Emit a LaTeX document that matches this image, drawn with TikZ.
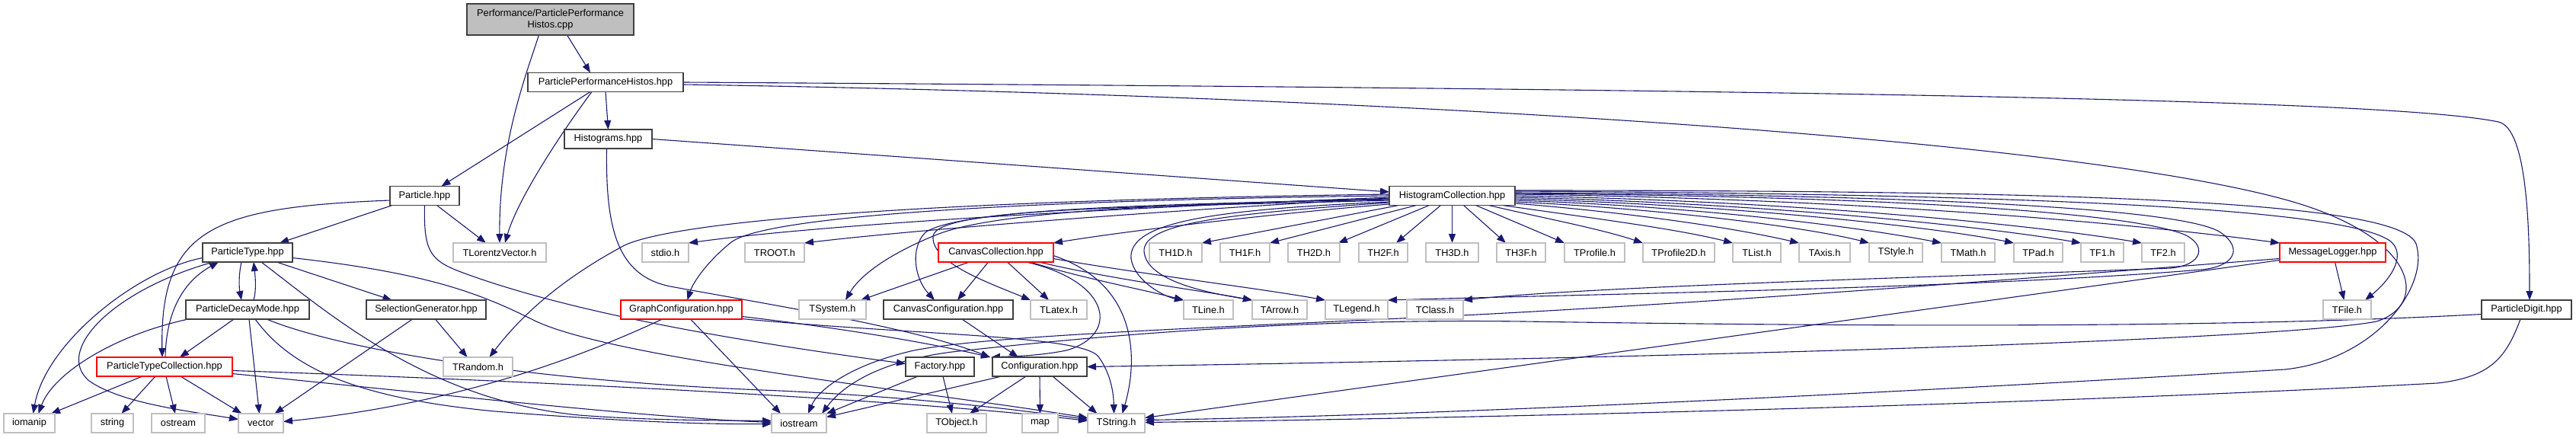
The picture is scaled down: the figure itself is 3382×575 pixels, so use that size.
\documentclass[tikz,border=0pt]{standalone}
\usepackage{fontspec}
\setmainfont{Liberation Sans}
\usetikzlibrary{arrows.meta}
\definecolor{edgec}{HTML}{191970}
\definecolor{extc}{HTML}{BFBFBF}
\definecolor{intc}{HTML}{404040}
\pgfdeclarelayer{paper}
\pgfdeclarelayer{bg}
\pgfsetlayers{paper,bg,main}
\tikzset{
 box/.style={rectangle, minimum height=25pt, inner sep=0pt, outer sep=0pt, line width=1.2pt, fill=white, font=\fontsize{12.8}{15}\selectfont, text=black},
 intbox/.style={box, draw=intc},
 extbox/.style={box, draw=extc},
 trunc/.style={box, draw=red},
 rootbox/.style={box, draw=intc, fill=extc, minimum height=41pt, align=center},
 e/.style={draw=edgec, line width=1.1pt, -{Triangle[length=12pt,width=9pt]}},
}
\begin{document}
\begin{tikzpicture}[x=1pt,y=-1pt]
\begin{pgfonlayer}{paper}
\fill[white] (0,0) rectangle (3382,575);
\end{pgfonlayer}
\useasboundingbox (0,0) rectangle (3382,575);
% rank 0-3
\node[rootbox, minimum width=219pt] (root) at (722.5,25.5) {Performance/ParticlePerformance\\Histos.cpp};
\node[intbox, minimum width=204pt] (pph) at (795,108) {ParticlePerformanceHistos.hpp};
\node[intbox, minimum width=115pt] (hist) at (798.5,182.5) {Histograms.hpp};
\node[intbox, minimum width=91pt] (particle) at (557.5,257) {Particle.hpp};
\node[intbox, minimum width=165pt] (histcoll) at (1906.5,257) {HistogramCollection.hpp};
% rank 4
\node[intbox, minimum width=118pt] (ptype) at (325,331.5) {ParticleType.hpp};
\node[extbox, minimum width=122pt] (tlv) at (656,331.5) {TLorentzVector.h};
\node[extbox, minimum width=61pt] (stdio) at (873.5,331.5) {stdio.h};
\node[extbox, minimum width=78pt] (troot) at (1017,331.5) {TROOT.h};
\node[trunc, minimum width=151pt] (canvcoll) at (1307.5,331.5) {CanvasCollection.hpp};
\node[extbox, minimum width=69pt] (th1d) at (1543.5,331.5) {TH1D.h};
\node[extbox, minimum width=65pt] (th1f) at (1634.5,331.5) {TH1F.h};
\node[extbox, minimum width=68pt] (th2d) at (1725,331.5) {TH2D.h};
\node[extbox, minimum width=64pt] (th2f) at (1816,331.5) {TH2F.h};
\node[extbox, minimum width=69pt] (th3d) at (1906.5,331.5) {TH3D.h};
\node[extbox, minimum width=64pt] (th3f) at (1997,331.5) {TH3F.h};
\node[extbox, minimum width=79pt] (tprof) at (2093.5,331.5) {TProfile.h};
\node[extbox, minimum width=94pt] (tprof2d) at (2204,331.5) {TProfile2D.h};
\node[extbox, minimum width=63pt] (tlist) at (2306.5,331.5) {TList.h};
\node[extbox, minimum width=67pt] (taxis) at (2395.5,331.5) {TAxis.h};
\node[extbox, minimum width=70pt] (tstyle) at (2489,331.5) {TStyle.h};
\node[extbox, minimum width=70pt] (tmath) at (2584,331.5) {TMath.h};
\node[extbox, minimum width=64pt] (tpad) at (2676,331.5) {TPad.h};
\node[extbox, minimum width=56pt] (tf1) at (2760,331.5) {TF1.h};
\node[extbox, minimum width=56pt] (tf2) at (2840,331.5) {TF2.h};
\node[trunc, minimum width=139pt] (msglog) at (3062.5,331.5) {MessageLogger.hpp};
% rank 5
\node[intbox, minimum width=162pt] (pdm) at (325,406.5) {ParticleDecayMode.hpp};
\node[intbox, minimum width=157pt] (selgen) at (559.5,406.5) {SelectionGenerator.hpp};
\node[trunc, minimum width=159pt] (graphconf) at (894.5,406.5) {GraphConfiguration.hpp};
\node[extbox, minimum width=88pt] (tsystem) at (1093,406.5) {TSystem.h};
\node[intbox, minimum width=170pt] (canvconf) at (1245,406.5) {CanvasConfiguration.hpp};
\node[extbox, minimum width=74pt] (tlatex) at (1390,406.5) {TLatex.h};
\node[extbox, minimum width=65pt] (tline) at (1586.5,406.5) {TLine.h};
\node[extbox, minimum width=72pt] (tarrow) at (1680,406.5) {TArrow.h};
\node[extbox, minimum width=82pt] (tlegend) at (1781,406.5) {TLegend.h};
\node[extbox, minimum width=74pt] (tclass) at (1884,406.5) {TClass.h};
\node[extbox, minimum width=63pt] (tfile) at (3081.5,406.5) {TFile.h};
\node[intbox, minimum width=118pt] (pdigit) at (3317,406.5) {ParticleDigit.hpp};
% rank 6
\node[trunc, minimum width=178pt] (ptc) at (216,481.5) {ParticleTypeCollection.hpp};
\node[extbox, minimum width=91pt] (trandom) at (627.5,481.5) {TRandom.h};
\node[intbox, minimum width=90pt] (factory) at (1234,481.5) {Factory.hpp};
\node[intbox, minimum width=124pt] (config) at (1365,481.5) {Configuration.hpp};
% rank 7
\node[extbox, minimum width=67pt] (iomanip) at (38.5,555.5) {iomanip};
\node[extbox, minimum width=55pt] (string) at (147.5,555.5) {string};
\node[extbox, minimum width=70pt] (ostream) at (234,555.5) {ostream};
\node[extbox, minimum width=59pt] (vector) at (342.5,555.5) {vector};
\node[extbox, minimum width=72pt] (iostream) at (1049,555.5) {iostream};
\node[extbox, minimum width=78pt] (tobject) at (1256,555.5) {TObject.h};
\node[extbox, minimum width=47pt] (map) at (1365.5,555.5) {map};
\node[extbox, minimum width=75pt] (tstring) at (1465.5,555.5) {TString.h};

\begin{pgfonlayer}{bg}
% root
\draw[e] ([xshift=22pt]root.south) -- ([xshift=-20pt]pph.north);
\draw[e] ([xshift=-15pt]root.south) .. controls (690,100) and (655,190) .. (tlv.north);
% pph
\draw[e] ([xshift=-20pt]pph.south) -- ([xshift=22pt]particle.north);
\draw[e] ([xshift=-18pt]pph.south) .. controls (740,170) and (680,260) .. ([xshift=7pt]tlv.north);
\draw[e] (pph.south) -- (hist.north);
\draw[e] (pph.east) .. controls (2500,118) and (3150,133) .. (3280,160) .. controls (3318,168) and (3321,300) .. ([xshift=4pt]pdigit.north);
\draw[e] ([yshift=-3pt]pph.east) .. controls (1800,125) and (2700,180) .. (3000,262) .. controls (3175,310) and (3190,400) .. (3120,422) .. controls (3000,445) and (2300,468) .. (config.east);
% histograms
\draw[e] (hist.east) -- ([yshift=5pt]histcoll.west);
\draw[e] ([xshift=-2pt]hist.south) .. controls (795,300) and (810,362) .. (880,376) .. controls (1000,398) and (1200,430) .. ([xshift=-3pt]config.north west);
% particle
\draw[e] ([xshift=3pt]particle.south west) -- ([xshift=42pt]ptype.north);
\draw[e] ([yshift=-6pt]particle.west) .. controls (280,272) and (210,300) .. ([xshift=-3pt]ptc.north);
\draw[e] ([xshift=16pt]particle.south) -- ([xshift=-18pt]tlv.north);
\draw[e] (particle.south) .. controls (556,330) and (565,342) .. (605,357) .. controls (760,415) and (1000,452) .. ([yshift=4pt]factory.west);
% particle type
\draw[e] ([xshift=-8pt]ptype.south) .. controls (313,362) and (314,378) .. ([xshift=-8pt]pdm.north);
\draw[e] ([xshift=8pt]pdm.north) .. controls (337,380) and (335,362) .. ([xshift=8pt]ptype.south);
\draw[e] ([xshift=38pt]ptype.south) -- ([xshift=-45pt]selgen.north);
\draw[e] ([yshift=-7pt]ptype.west) .. controls (180,355) and (60,450) .. ([xshift=5pt]iomanip.north);
\draw[e] ([xshift=-45pt]ptype.south) .. controls (150,380) and (70,460) .. (117,500) .. controls (160,530) and (250,540) .. ([yshift=5pt]vector.west);
\draw[e] ([xshift=1pt]ptc.north) .. controls (218,410) and (240,370) .. ([xshift=-38pt]ptype.south);
\draw[e] ([xshift=18pt]ptype.south) .. controls (430,410) and (560,525) .. (760,545) .. controls (850,552) and (950,552) .. ([yshift=3pt]iostream.west);
\draw[e] ([yshift=-7pt]ptype.east) .. controls (560,358) and (630,385) .. (700,420) .. controls (800,470) and (1200,512) .. ([yshift=7pt]tstring.west);
% particle decay mode
\draw[e] ([xshift=3pt]pdm.south west) .. controls (150,440) and (70,490) .. ([xshift=12pt]iomanip.north);
\draw[e] ([xshift=-18pt]pdm.south) -- ([xshift=20pt]ptc.north);
\draw[e] ([xshift=2pt]pdm.south) -- ([xshift=-2pt]vector.north);
\draw[e] ([xshift=10pt]pdm.south) .. controls (380,480) and (460,522) .. (650,540) .. controls (850,556) and (950,557) .. ([yshift=-1pt]iostream.west);
\draw[e] ([xshift=25pt]pdm.south) .. controls (450,460) and (700,500) .. (1000,512) .. controls (1200,520) and (1350,540) .. ([yshift=5pt]tstring.west);
% particle type collection
\draw[e] ([xshift=-29pt]ptc.south) -- ([xshift=-5pt]iomanip.north east);
\draw[e] ([xshift=-12pt]ptc.south) -- ([xshift=12pt]string.north);
\draw[e] ([xshift=2pt]ptc.south) -- ([xshift=-4pt]ostream.north);
\draw[e] ([xshift=21pt]ptc.south) -- ([xshift=-25pt]vector.north);
\draw[e] ([yshift=-9pt]ptc.east) .. controls (600,520) and (850,548) .. ([yshift=1pt]iostream.west);
\draw[e] ([yshift=-5pt]ptc.east) .. controls (700,500) and (1200,525) .. ([yshift=3pt]tstring.west);
% selection generator
\draw[e] ([xshift=-18pt]selgen.south) -- ([xshift=18pt]vector.north);
\draw[e] ([xshift=12pt]selgen.south) -- ([xshift=-14pt]trandom.north);
% graph configuration
\draw[e] ([xshift=-25pt]graphconf.south) .. controls (760,470) and (600,530) .. ([yshift=2pt]vector.east);
\draw[e] ([xshift=12pt]graphconf.south) -- ([xshift=-24pt]iostream.north);
\draw[e] ([yshift=-9pt]graphconf.east) .. controls (1100,430) and (1220,450) .. ([xshift=-3pt]config.north west);
\draw[e] ([yshift=-12pt]graphconf.east) .. controls (1200,440) and (1420,440) .. (1442,468) .. controls (1458,490) and (1462,515) .. ([xshift=-3pt]tstring.north);
% canvas collection
\draw[e] ([xshift=-35pt]canvcoll.south) -- ([xshift=37pt]tsystem.north);
\draw[e] ([xshift=-10pt]canvcoll.south) -- ([xshift=12pt]canvconf.north);
\draw[e] ([xshift=15pt]canvcoll.south) -- ([xshift=-13pt]tlatex.north);
\draw[e] ([xshift=45pt]canvcoll.south) .. controls (1420,365) and (1500,380) .. (tline.north west);
\draw[e] ([xshift=57pt]canvcoll.south) .. controls (1450,365) and (1580,382) .. (tarrow.north west);
\draw[e] ([yshift=-8pt]canvcoll.east) .. controls (1500,360) and (1650,378) .. (tlegend.north west);
\draw[e] ([yshift=-4pt]canvcoll.east) .. controls (1500,375) and (1492,480) .. ([xshift=8pt]tstring.north);
\draw[e] ([xshift=40pt]canvcoll.south) .. controls (1460,370) and (1470,440) .. (1400,460) .. controls (1360,468) and (1320,468) .. ([xshift=-2pt]config.north west);
% canvas configuration, factory, configuration
\draw[e] ([xshift=18pt]canvconf.south) -- ([xshift=-28pt]config.north);
\draw[e] ([xshift=-29pt]factory.south) -- (iostream.north east);
\draw[e] ([xshift=4pt]factory.south) -- ([xshift=-6pt]tobject.north);
\draw[e] ([xshift=-50pt]config.south) -- ([yshift=8pt]iostream.east);
\draw[e] ([xshift=-18pt]config.south) -- ([xshift=17pt]tobject.north);
\draw[e] (config.south) -- (map.north);
\draw[e] ([xshift=17pt]config.south) -- ([xshift=-25pt]tstring.north);
% histogram collection: fan below
\draw[e] ([xshift=-70pt]histcoll.south) -- (th1d.north east);
\draw[e] ([xshift=-47pt]histcoll.south) -- (th1f.north east);
\draw[e] ([xshift=-30pt]histcoll.south) -- ([xshift=-2pt]th2d.north east);
\draw[e] ([xshift=-15pt]histcoll.south) -- ([xshift=17pt]th2f.north);
\draw[e] (histcoll.south) -- (th3d.north);
\draw[e] ([xshift=15pt]histcoll.south) -- ([xshift=-20pt]th3f.north);
\draw[e] ([xshift=31pt]histcoll.south) -- (tprof.north west);
\draw[e] ([xshift=48pt]histcoll.south) .. controls (2020,285) and (2100,300) .. (tprof2d.north west);
\draw[e] ([xshift=66pt]histcoll.south) .. controls (2080,285) and (2200,300) .. (tlist.north west);
% histogram collection: to the right
\draw[e] ([yshift=-10pt]histcoll.east) .. controls (2150,280) and (2280,300) .. (taxis.north west);
\draw[e] ([yshift=-8pt]histcoll.east) .. controls (2200,275) and (2380,300) .. (tstyle.north west);
\draw[e] ([yshift=-6pt]histcoll.east) .. controls (2250,272) and (2450,300) .. (tmath.north west);
\draw[e] ([yshift=-4pt]histcoll.east) .. controls (2300,270) and (2550,300) .. (tpad.north west);
\draw[e] ([yshift=-2pt]histcoll.east) .. controls (2350,268) and (2620,300) .. (tf1.north west);
\draw[e] (histcoll.east) .. controls (2400,265) and (2700,300) .. (tf2.north west);
\draw[e] ([yshift=2pt]histcoll.east) .. controls (2500,262) and (2850,300) .. (msglog.north west);
\draw[e] ([yshift=3pt]histcoll.east) .. controls (2500,258) and (2800,280) .. (2868,308) .. controls (2898,322) and (2892,348) .. (2850,352) .. controls (2600,362) and (2100,375) .. (tclass.north east);
\draw[e] ([yshift=4pt]histcoll.east) .. controls (2550,256) and (2870,275) .. (2915,305) .. controls (2945,325) and (2935,350) .. (2890,354) .. controls (2600,378) and (2100,386) .. (tlegend.north east);
\draw[e] ([yshift=6pt]histcoll.east) .. controls (2700,255) and (3090,275) .. (3140,318) .. controls (3160,338) and (3135,370) .. ([xshift=-8pt]tfile.north east);
\draw[e] ([yshift=7pt]histcoll.east) .. controls (2700,250) and (3150,262) .. (3172,320) .. controls (3190,375) and (3120,472) .. (3000,485) .. controls (2500,515) and (1900,545) .. ([yshift=4pt]tstring.east);
% histogram collection: to the left
\draw[e] ([yshift=-2pt]histcoll.west) .. controls (1500,272) and (1100,292) .. (stdio.north east);
\draw[e] ([yshift=-3pt]histcoll.west) .. controls (1500,278) and (1200,302) .. (troot.north east);
\draw[e] ([yshift=-11pt]histcoll.west) .. controls (1700,278) and (1500,300) .. (canvcoll.north east);
\draw[e] (histcoll.west) .. controls (1400,262) and (1010,280) .. (960,318) .. controls (930,342) and (910,370) .. ([xshift=8pt]graphconf.north);
\draw[e] ([yshift=2pt]histcoll.west) .. controls (1300,262) and (900,285) .. (820,322) .. controls (730,370) and (680,420) .. ([xshift=15pt]trandom.north);
\draw[e] ([yshift=-4pt]histcoll.west) .. controls (1500,268) and (1300,280) .. (1230,308) .. controls (1170,332) and (1130,360) .. ([xshift=17pt]tsystem.north);
\draw[e] ([yshift=-5pt]histcoll.west) .. controls (1500,268) and (1260,275) .. (1215,305) .. controls (1195,325) and (1200,365) .. ([xshift=-18pt]canvconf.north);
\draw[e] ([yshift=-6pt]histcoll.west) .. controls (1500,272) and (1230,272) .. (1225,310) .. controls (1222,345) and (1300,372) .. (tlatex.north west);
\draw[e] ([yshift=-8pt]histcoll.west) .. controls (1600,275) and (1480,290) .. (1485,340) .. controls (1490,370) and (1530,390) .. (tline.north west);
\draw[e] ([yshift=-9pt]histcoll.west) .. controls (1620,280) and (1500,292) .. (1502,330) .. controls (1505,370) and (1590,385) .. (tarrow.north west);
% message logger
\draw[e] ([xshift=3pt]msglog.south) -- ([xshift=-4pt]tfile.north);
\draw[e] ([yshift=-8pt]msglog.west) .. controls (2700,362) and (2300,395) .. (1900,415) .. controls (1600,430) and (1300,440) .. (1200,460) .. controls (1120,478) and (1075,510) .. ([xshift=12pt]iostream.north);
\draw[e] ([yshift=-10pt]msglog.west) -- ([yshift=7pt]tstring.east);
% particle digit
\draw[e] ([yshift=-6pt]pdigit.west) .. controls (2900,432) and (2400,428) .. (2000,422) .. controls (1700,418) and (1450,440) .. (1250,462) .. controls (1140,476) and (1100,515) .. ([xshift=-6pt]iostream.north east);
\draw[e] ([xshift=-8pt]pdigit.south) .. controls (3290,470) and (3270,495) .. (3200,503) .. controls (2700,530) and (2000,548) .. ([yshift=1pt]tstring.east);
\end{pgfonlayer}
\end{tikzpicture}
\end{document}
